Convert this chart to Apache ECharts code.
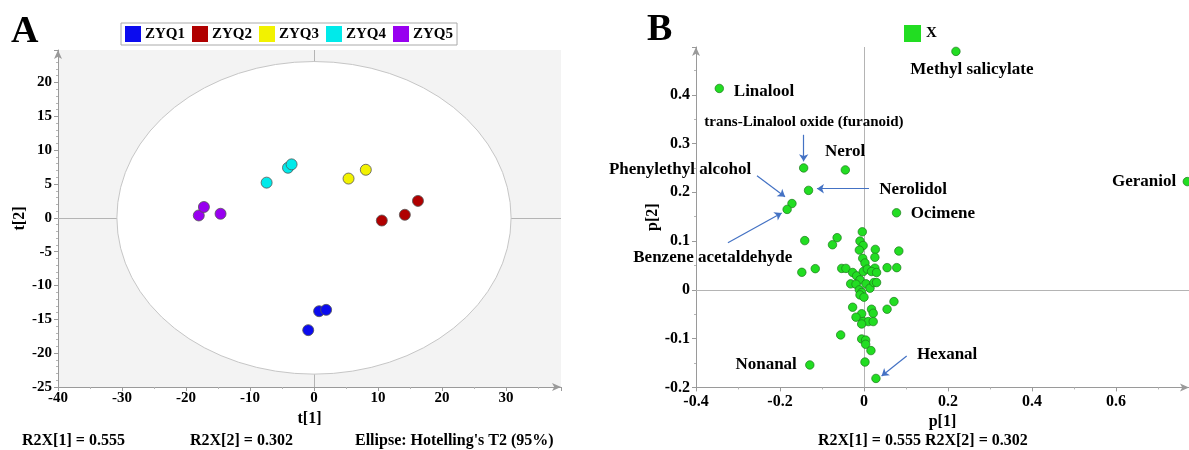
<!DOCTYPE html>
<html><head><meta charset="utf-8">
<script src="https://cdn.jsdelivr.net/npm/echarts@6/dist/echarts.min.js"></script>
<style>html,body{margin:0;padding:0;background:#fff}#c{width:1189px;height:450px}</style>
</head><body><div id="c"></div>
<script>
// ---------- Panel A: scores ----------
const groupNames = ['ZYQ1', 'ZYQ2', 'ZYQ3', 'ZYQ4', 'ZYQ5'];
const zyq1 = [[-0.9, -16.6], [0.8, -13.8], [1.9, -13.6]];
const zyq2 = [[10.6, -0.4], [14.2, 0.45], [16.25, 2.5]];
const zyq3 = [[5.4, 5.8], [8.1, 7.1]];
const zyq4 = [[-7.4, 5.2], [-4.06, 7.4], [-3.5, 7.9]];
const zyq5 = [[-18.0, 0.35], [-17.2, 1.6], [-14.6, 0.6]];
const ellipseAxes = [30.8, 23.1];           // Hotelling's T2 (95%) semi-axes
const axisA = { xMin: -40, xMax: 38.6, xStep: 10, yMin: -25, yMax: 24.8, yStep: 5 };

// ---------- Panel B: loadings ----------
const loadings = [
  [-0.3445, 0.413], [0.219, 0.489], [0.77, 0.222], [-0.1436, 0.25], [-0.0444, 0.246],
  [-0.132, 0.204], [-0.1715, 0.177], [-0.183, 0.165], [0.0775, 0.158], [-0.129, -0.154],
  [0.0285, -0.1816],
  [-0.004, 0.119], [-0.141, 0.101], [-0.064, 0.107], [-0.075, 0.0925], [-0.0095, 0.1],
  [-0.002, 0.091], [-0.011, 0.0816], [0.027, 0.083], [0.083, 0.0796], [-0.003, 0.0646],
  [0.026, 0.0667], [0.0024, 0.055], [-0.148, 0.036], [-0.116, 0.0435], [-0.053, 0.044],
  [-0.043, 0.044], [-0.027, 0.0356], [-0.0175, 0.0287], [-0.0016, 0.0376], [0.008, 0.0425],
  [0.026, 0.0445], [0.018, 0.0376], [0.030, 0.0356], [0.055, 0.0456], [0.078, 0.0456],
  [-0.0095, 0.0205], [-0.0317, 0.0123], [-0.019, 0.0116], [0.0048, 0.0123], [0.0143, 0.0035],
  [0.0238, 0.015], [0.030, 0.015], [-0.011, 0.0], [-0.0055, -0.0055], [-0.0095, -0.0103],
  [0.0, -0.015], [-0.027, -0.0356], [0.018, -0.0397], [0.0714, -0.024], [0.055, -0.0397],
  [-0.0055, -0.049], [0.022, -0.048], [-0.019, -0.056], [-0.0016, -0.065], [0.0103, -0.065],
  [0.022, -0.065], [-0.0055, -0.07], [-0.0555, -0.0924], [-0.0055, -0.1007], [0.004, -0.103],
  [0.004, -0.1116], [0.0166, -0.1245], [0.0024, -0.148]
];
const annotationNames = ['Methyl salicylate', 'Linalool', 'trans-Linalool oxide (furanoid)', 'Nerol',
  'Phenylethyl alcohol', 'Nerolidol', 'Ocimene', 'Benzene acetaldehyde', 'Geraniol', 'Nonanal', 'Hexanal'];
const annotationPos = [[0.257, 0.452], [-0.238, 0.407], [-0.143, 0.343], [-0.045, 0.283],
  [-0.438, 0.246], [0.117, 0.205], [0.188, 0.156], [-0.36, 0.066], [0.667, 0.222], [-0.233, -0.154], [0.198, -0.133]];
const arrowFrom = [[-0.1436, 0.318], [-0.2548, 0.234], [0.012, 0.2074], [-0.324, 0.0965], [0.1017, -0.1355]];
const arrowTo   = [[-0.1436, 0.2635], [-0.188, 0.191], [-0.112, 0.2074], [-0.196, 0.1575], [0.042, -0.1766]];
const axisB = { xMin: -0.4, xMax: 0.774, xStep: 0.2, yMin: -0.2, yMax: 0.498, yStep: 0.1 };

// ---------- styles ----------
const SERIF = "'Times New Roman','Liberation Serif',serif";
const groupColors = ['#0b0bef', '#b00000', '#f2f200', '#00eaea', '#9800f0'];
const greenFill = '#22dd22';

function valAxis(extra) {
  return Object.assign({
    type: 'value',
    splitLine: { show: false },
    axisLine: { show: true, onZero: false, lineStyle: { color: '#9a9a9a', width: 1 }, symbol: ['none', 'arrow'], symbolSize: [6, 9] },
    axisTick: { show: true, length: 4, lineStyle: { color: '#9a9a9a' } },
    minorTick: { show: true, splitNumber: 2, length: 2, lineStyle: { color: '#b5b5b5' } },
    axisLabel: { color: '#000', fontFamily: SERIF, fontWeight: 'bold', fontSize: 15, showMaxLabel: false, margin: 6 },
    nameLocation: 'middle',
    nameTextStyle: { color: '#000', fontFamily: SERIF, fontWeight: 'bold', fontSize: 16 }
  }, extra);
}

const zeroLine = (xi, yi) => ({
  type: 'line', xAxisIndex: xi, yAxisIndex: yi, data: [], silent: true, z: 1,
  markLine: { silent: true, z: 1, symbol: 'none', animation: false, label: { show: false },
    lineStyle: { color: '#b4b4b4', width: 1, type: 'solid' }, data: [{ xAxis: 0 }, { yAxis: 0 }] }
});

const groups = [zyq1, zyq2, zyq3, zyq4, zyq5];
const scoreSeries = groups.map((d, i) => ({
  name: groupNames[i], type: 'scatter', xAxisIndex: 0, yAxisIndex: 0, z: 3,
  data: d, symbolSize: 11,
  itemStyle: { color: groupColors[i], borderColor: '#555', borderWidth: 0.8, opacity: 1 }
}));

const annData = annotationNames.map((n, i) => ({
  name: n, value: annotationPos[i],
  label: i === 2 ? { fontSize: 15 } : undefined
}));

const txt = (size) => ({ fontFamily: SERIF, fontWeight: 'bold', fontSize: size, color: '#000' });

const option = {
  animation: false,
  backgroundColor: '#fff',
  title: [
    { text: 'A', left: 11, top: 13, padding: 0, textStyle: txt(38) },
    { text: 'B', left: 647, top: 11, padding: 0, textStyle: txt(38) },
    { text: 'R2X[1] = 0.555', left: 22, top: 433, padding: 0, textStyle: txt(16) },
    { text: 'R2X[2] = 0.302', left: 190, top: 433, padding: 0, textStyle: txt(16) },
    { text: "Ellipse: Hotelling's T2 (95%)", left: 355, top: 433, padding: 0, textStyle: txt(16) },
    { text: 'R2X[1] = 0.555 R2X[2] = 0.302', left: 818, top: 433, padding: 0, textStyle: txt(16) }
  ],
  legend: [
    { data: groupNames, left: 121, top: 23, icon: 'rect', itemWidth: 16, itemHeight: 16, itemGap: 7,
      padding: [3, 4], borderColor: '#aaa', borderWidth: 1, backgroundColor: '#fff',
      itemStyle: { borderWidth: 0 },
      textStyle: Object.assign(txt(15), { padding: [0, 0, 0, -1] }) },
    { data: ['X'], left: 904, top: 25, icon: 'rect', itemWidth: 17, itemHeight: 17, padding: 0,
      itemStyle: { borderWidth: 0 }, textStyle: txt(15) }
  ],
  grid: [
    { left: 58, top: 50, width: 503, height: 337, show: true, backgroundColor: '#f3f3f3', borderWidth: 0 },
    { left: 696, top: 47, right: 0, height: 340.4, show: false }
  ],
  xAxis: [
    valAxis({ gridIndex: 0, min: axisA.xMin, max: axisA.xMax, interval: axisA.xStep, name: 't[1]', nameGap: 18,
      axisLabel: { color: '#000', fontFamily: SERIF, fontWeight: 'bold', fontSize: 15, showMaxLabel: false, margin: 4 } }),
    valAxis({ gridIndex: 1, min: axisB.xMin, max: axisB.xMax, interval: axisB.xStep, name: 'p[1]', nameGap: 22,
      axisLabel: { color: '#000', fontFamily: SERIF, fontWeight: 'bold', fontSize: 16, showMaxLabel: false, margin: 6 } })
  ],
  yAxis: [
    valAxis({ gridIndex: 0, min: axisA.yMin, max: axisA.yMax, interval: axisA.yStep, name: 't[2]', nameGap: 26,
      minorTick: { show: true, splitNumber: 5, length: 2, lineStyle: { color: '#b5b5b5' } } }),
    valAxis({ gridIndex: 1, min: axisB.yMin, max: axisB.yMax, interval: axisB.yStep, name: 'p[2]', nameGap: 33,
      axisLabel: { color: '#000', fontFamily: SERIF, fontWeight: 'bold', fontSize: 16, showMaxLabel: false, margin: 6 } })
  ],
  series: [
    {
      type: 'custom', xAxisIndex: 0, yAxisIndex: 0, z: 1, silent: true,
      data: [[0, 0, ellipseAxes[0], ellipseAxes[1]]],
      renderItem: (params, api) => {
        const c = api.coord([api.value(0), api.value(1)]);
        const s = api.size([api.value(2), api.value(3)]);
        return {
          type: 'path',
          shape: { pathData: 'M0 1 A1 1 0 1 0 2 1 A1 1 0 1 0 0 1 Z', x: c[0] - s[0], y: c[1] - s[1], width: 2 * s[0], height: 2 * s[1], layout: 'cover' },
          style: { fill: '#ffffff', stroke: '#c6c6c6', lineWidth: 1 }
        };
      }
    },
    zeroLine(0, 0),
    ...scoreSeries,
    zeroLine(1, 1),
    {
      name: 'X', type: 'scatter', xAxisIndex: 1, yAxisIndex: 1, z: 3, data: loadings, symbolSize: 8.5,
      itemStyle: { color: greenFill, borderColor: '#1c7a1c', borderWidth: 0.7, opacity: 1 }
    },
    {
      type: 'scatter', xAxisIndex: 1, yAxisIndex: 1, z: 4, clip: false, silent: true,
      data: annData, symbolSize: 1, itemStyle: { color: 'rgba(0,0,0,0)' },
      label: { show: true, position: 'inside', formatter: '{b}', fontFamily: SERIF, fontWeight: 'bold', fontSize: 17,
        color: '#000', textBorderWidth: 0, textBorderColor: 'transparent', opacity: 1 },
      markLine: {
        silent: true, symbol: ['none', 'arrow'], symbolSize: 7, animation: false,
        label: { show: false },
        lineStyle: { type: 'solid', color: '#4472c4', width: 1.2 },
        data: arrowFrom.map((f, i) => [{ coord: f }, { coord: arrowTo[i] }])
      }
    }
  ]
};

const chart = echarts.init(document.getElementById('c'), null, { renderer: 'canvas' });
chart.setOption(option);
</script>
</body></html>
